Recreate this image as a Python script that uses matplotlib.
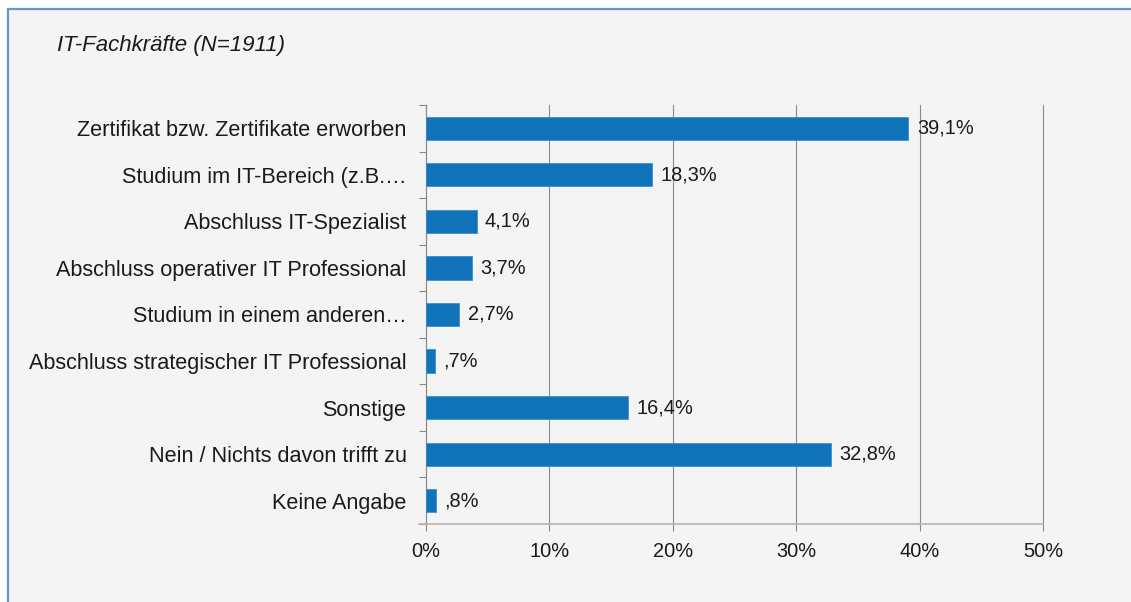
import matplotlib
matplotlib.use("Agg")
import matplotlib.pyplot as plt
from matplotlib.patches import Rectangle
from matplotlib.ticker import FixedLocator

plt.rcParams['font.family'] = ['Liberation Sans', 'DejaVu Sans']

categories = [
    "Zertifikat bzw. Zertifikate erworben",
    "Studium im IT-Bereich (z.B.\u2026",
    "Abschluss IT-Spezialist",
    "Abschluss operativer IT Professional",
    "Studium in einem anderen\u2026",
    "Abschluss strategischer IT Professional",
    "Sonstige",
    "Nein / Nichts davon trifft zu",
    "Keine Angabe",
]
values = [39.1, 18.3, 4.1, 3.7, 2.7, 0.7, 16.4, 32.8, 0.8]
value_labels = ["39,1%", "18,3%", "4,1%", "3,7%", "2,7%", ",7%", "16,4%", "32,8%", ",8%"]
xticks = [0, 10, 20, 30, 40, 50]
xticklabels = ["0%", "10%", "20%", "30%", "40%", "50%"]
title = "IT-Fachkräfte (N=1911)"

FS_CAT = 15.6
FS_NUM = 14.4
FS_TITLE = 16

W, H = 1131, 602
fig = plt.figure(figsize=(W / 100, H / 100), dpi=100)
fig.patch.set_facecolor("white")

# background panel with border (left and top visible)
panel = Rectangle((8 / W, -0.05), 1.2, 1 - 9 / H + 0.05, transform=fig.transFigure,
                  facecolor="#f4f4f4", edgecolor="#6b93cf", linewidth=1.6, zorder=-10)
fig.patches.append(panel)

ax = fig.add_axes([426 / W, 1 - 524 / H, (1043 - 426) / W, (524 - 105) / H])
ax.set_facecolor("none")
ax.set_zorder(5)

n = len(categories)
pos = list(range(n))
ax.barh(pos, values, height=0.5, color="#1174bb", edgecolor="#3d8fcc", linewidth=0.6, zorder=3)
ax.set_ylim(n - 0.5, -0.5)
ax.set_xlim(0, 50)

for p, v, lab in zip(pos, values, value_labels):
    ax.annotate(lab, (v, p), xytext=(6, 0), textcoords="offset points",
                va="center", ha="left", fontsize=FS_NUM, color="#1a1a1a", zorder=4)

ax.set_yticks(pos)
ax.set_yticklabels(categories, fontsize=FS_CAT, color="#1a1a1a")
ax.yaxis.set_minor_locator(FixedLocator([i - 0.5 for i in range(n + 1)]))
ax.tick_params(axis="y", which="major", length=0, pad=14)
ax.tick_params(axis="y", which="minor", length=5, width=0.8, color="#888888")

ax.set_xticks(xticks)
ax.set_xticklabels(xticklabels, fontsize=FS_NUM, color="#1a1a1a")
ax.tick_params(axis="x", length=5, width=0.8, color="#888888", pad=8)

ax.grid(axis="x", color="#8a8a8a", linewidth=0.8, zorder=1)
for gl in ax.get_xgridlines():
    gl.set_clip_on(False)
ax.set_axisbelow(True)

for s in ["top", "right"]:
    ax.spines[s].set_visible(False)
ax.spines["left"].set_color("#8a8a8a")
ax.spines["left"].set_linewidth(0.8)
ax.spines["bottom"].set_color("#b5b5b5")
ax.spines["bottom"].set_linewidth(1.2)
ax.spines["bottom"].set_bounds(-0.6, 50)
ax.spines["bottom"].set_clip_on(False)

fig.text(57 / W, 1 - 45 / H, title, fontsize=FS_TITLE, style="italic", va="center", ha="left", color="#1a1a1a")

fig.savefig("out.png", dpi=100, facecolor="white")
